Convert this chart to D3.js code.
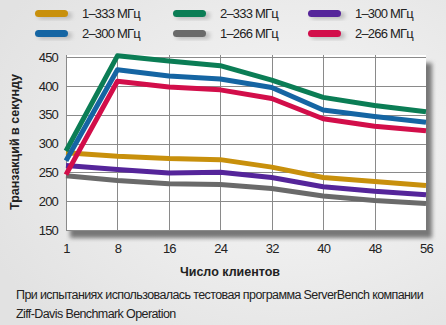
<!DOCTYPE html>
<html><head><meta charset="utf-8">
<script src="https://cdn.jsdelivr.net/npm/d3@7"></script>
<style>
html,body{margin:0;padding:0;overflow:hidden;}
text{font-family:"Liberation Sans",Arial,sans-serif;}
</style></head>
<body>
<svg id="c" width="446" height="325"></svg>
<script>
const clients = ["1","8","16","24","32","40","48","56"];
const seriesNames = ["1–333 МГц","2–333 МГц","1–300 МГц","2–300 МГц","1–266 МГц","2–266 МГц"];
const s1_333 = [284,278,274,272,259,241,234,227];
const s2_333 = [287,452,443,435,410,380,366,355];
const s1_300 = [262,255,249,250,241,225,217,211];
const s2_300 = [270,428,417,412,397,358,347,337];
const s1_266 = [244,236,230,229,222,209,201,196];
const s2_266 = [246,408,398,393,378,343,330,322];
const yTicks = [150,200,250,300,350,400,450];
const colors = ["#c8900c","#0b7d55","#55259a","#1565a3","#6a6a6a","#d20e4a"];
const values = [s1_333,s2_333,s1_300,s2_300,s1_266,s2_266];

const svg = d3.select("#c");
const defs = svg.append("defs");
const bg = defs.append("radialGradient").attr("id","bg").attr("cx","0.65").attr("cy","0.45").attr("r","0.75");
bg.append("stop").attr("offset","0").attr("stop-color","#f7f7f7");
bg.append("stop").attr("offset","1").attr("stop-color","#e2e2e2");
svg.append("rect").attr("width",446).attr("height",325).attr("fill","url(#bg)");

const x = d3.scalePoint().domain(clients).range([66,426]);
const y = d3.scaleLinear().domain([150,450]).range([230,57]);

// shadow
const sh = defs.append("filter").attr("id","sh").attr("x","-0.1").attr("y","-0.1").attr("width","1.2").attr("height","1.3");
sh.append("feGaussianBlur").attr("stdDeviation",2);
svg.append("rect").attr("x",x("1")+4).attr("y",y(450)+6).attr("width",x("56")-x("1")+2).attr("height",y(150)-y(450)+2)
  .attr("fill","#777").attr("filter","url(#sh)");
svg.append("rect").attr("x",x("1")).attr("y",y(450)-2).attr("width",x("56")-x("1")).attr("height",y(150)-y(450)+2)
  .attr("fill","#fff");

// grid
const g = svg.append("g");
g.selectAll("line.h").data(yTicks).join("line")
  .attr("x1",x("1")).attr("x2",x("56")).attr("y1",d=>Math.round(y(d))+0.5).attr("y2",d=>Math.round(y(d))+0.5)
  .attr("stroke","#8a8a8a").attr("stroke-width",1);
g.selectAll("line.v").data(clients.slice(0,7)).join("line")
  .attr("x1",d=>Math.round(x(d))+0.5).attr("x2",d=>Math.round(x(d))+0.5).attr("y1",y(450)-2).attr("y2",y(150))
  .attr("stroke","#8a8a8a").attr("stroke-width",1);

// axes labels
const yAxis = d3.axisLeft(y).tickValues(yTicks).tickSize(0).tickPadding(8);
const ya = svg.append("g").attr("transform",`translate(${x("1")},0)`).call(yAxis);
ya.select(".domain").remove();
ya.selectAll("text").attr("font-size",13).attr("fill","#222").attr("font-family","Liberation Sans, Arial, sans-serif").attr("letter-spacing","-0.8");
const xAxis = d3.axisBottom(x).tickSize(0).tickPadding(10);
const xa = svg.append("g").attr("transform",`translate(0,${y(150)+4})`).call(xAxis);
xa.select(".domain").remove();
xa.selectAll("text").attr("font-size",13).attr("fill","#222").attr("font-family","Liberation Sans, Arial, sans-serif").attr("letter-spacing","-0.8");

// lines
const line = d3.line().x((d,i)=>x(clients[i])).y(d=>y(d));
const order = [0,2,4,1,3,5];
svg.append("g").selectAll("path").data(order).join("path")
  .attr("d",i=>line(values[i])).attr("fill","none").attr("stroke",i=>colors[i])
  .attr("stroke-width",5).attr("stroke-linejoin","round");

// legend
const legPos = [[35,14],[173,14],[308,14],[35,34],[173,34],[308,34]];
const leg = svg.append("g");
seriesNames.forEach((n,i)=>{
  const [lx,ly] = legPos[i];
  leg.append("rect").attr("x",lx+3).attr("y",ly-2).attr("width",34).attr("height",7).attr("rx",3.5)
    .attr("fill","#bbb").attr("filter","url(#sh)");
  leg.append("rect").attr("x",lx).attr("y",ly-4).attr("width",33).attr("height",7).attr("rx",3.5).attr("fill",colors[i]);
  leg.append("text").attr("x",lx+47).attr("y",ly+4).attr("font-size",13).attr("fill","#222").attr("letter-spacing","-0.8").text(n);
});

// titles
svg.append("text").attr("transform","translate(19,142) rotate(-90)").attr("text-anchor","middle")
  .attr("font-size",12.5).attr("font-weight","bold").attr("fill","#222").text("Транзакций в секунду");
svg.append("text").attr("x",230).attr("y",276).attr("text-anchor","middle")
  .attr("font-size",12.5).attr("font-weight","bold").attr("fill","#222").text("Число клиентов");
svg.append("text").attr("x",16).attr("y",299).attr("font-size",12.5).attr("fill","#222").attr("letter-spacing","-0.6")
  .text("При испытаниях использовалась тестовая программа ServerBench компании");
svg.append("text").attr("x",16).attr("y",318).attr("font-size",12.5).attr("fill","#222").attr("letter-spacing","-0.6")
  .text("Ziff-Davis Benchmark Operation");
</script>
</body></html>
